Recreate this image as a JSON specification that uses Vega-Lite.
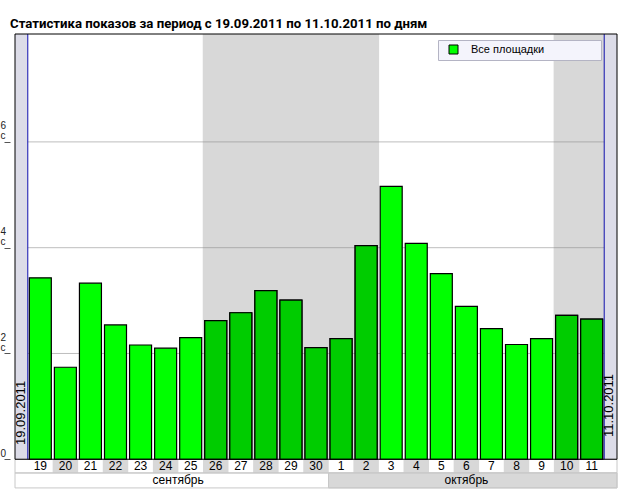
{
  "$schema": "https://vega.github.io/schema/vega-lite/v6.json",
  "width": 612,
  "height": 457,
  "autosize": "none",
  "padding": {"left": 10, "top": 34, "right": 7, "bottom": 9},
  "background": "white",
  "title": {
    "text": "Статистика показов за период с 19.09.2011 по 11.10.2011 по дням",
    "anchor": "start",
    "frame": "group",
    "font": "Roboto",
    "fontSize": 13.2,
    "fontWeight": "bold",
    "color": "black",
    "baseline": "bottom",
    "offset": 5,
    "dy": 16
  },
  "config": {
    "view": {"stroke": null},
    "font": "Liberation Sans",
    "axisX": {"disable": true},
    "axisY": {
      "domain": false,
      "grid": false,
      "tickSize": 6,
      "tickColor": "#555555",
      "labelAlign": "left",
      "labelPadding": 4,
      "labelBaseline": "bottom",
      "labelOffset": -11,
      "labelFontSize": 10,
      "labelLineHeight": 10,
      "labelColor": "#222222",
      "title": null,
      "labelExpr": "datum.value == 0 ? [' ', '0'] : [datum.label, 'с']"
    }
  },
  "datasets": {
    "days": [
      {"i": 0, "day": "19", "month": "сентябрь", "week": 1, "shows": 3.43},
      {"i": 1, "day": "20", "month": "сентябрь", "week": 1, "shows": 1.74},
      {"i": 2, "day": "21", "month": "сентябрь", "week": 1, "shows": 3.33},
      {"i": 3, "day": "22", "month": "сентябрь", "week": 1, "shows": 2.54},
      {"i": 4, "day": "23", "month": "сентябрь", "week": 1, "shows": 2.16},
      {"i": 5, "day": "24", "month": "сентябрь", "week": 1, "shows": 2.10},
      {"i": 6, "day": "25", "month": "сентябрь", "week": 1, "shows": 2.30},
      {"i": 7, "day": "26", "month": "сентябрь", "week": 2, "shows": 2.62},
      {"i": 8, "day": "27", "month": "сентябрь", "week": 2, "shows": 2.77},
      {"i": 9, "day": "28", "month": "сентябрь", "week": 2, "shows": 3.19},
      {"i": 10, "day": "29", "month": "сентябрь", "week": 2, "shows": 3.01},
      {"i": 11, "day": "30", "month": "сентябрь", "week": 2, "shows": 2.11},
      {"i": 12, "day": "1", "month": "октябрь", "week": 2, "shows": 2.28},
      {"i": 13, "day": "2", "month": "октябрь", "week": 2, "shows": 4.04},
      {"i": 14, "day": "3", "month": "октябрь", "week": 3, "shows": 5.16},
      {"i": 15, "day": "4", "month": "октябрь", "week": 3, "shows": 4.08},
      {"i": 16, "day": "5", "month": "октябрь", "week": 3, "shows": 3.51},
      {"i": 17, "day": "6", "month": "октябрь", "week": 3, "shows": 2.89},
      {"i": 18, "day": "7", "month": "октябрь", "week": 3, "shows": 2.47},
      {"i": 19, "day": "8", "month": "октябрь", "week": 3, "shows": 2.17},
      {"i": 20, "day": "9", "month": "октябрь", "week": 3, "shows": 2.28},
      {"i": 21, "day": "10", "month": "октябрь", "week": 4, "shows": 2.72},
      {"i": 22, "day": "11", "month": "октябрь", "week": 4, "shows": 2.65}
    ]
  },
  "layer": [
    {
      "data": {"values": [{}]},
      "mark": {"type": "rect", "fill": "#DCDCE8"},
      "encoding": {
        "x": {"datum": -1.01, "type": "quantitative", "scale": {"domain": [-1.01, 23.01], "nice": false, "zero": false}},
        "x2": {"datum": -0.5},
        "y": {"datum": 0, "type": "quantitative", "scale": {"domain": [-0.6, 8.04], "nice": false, "zero": false}, "axis": {"values": [0, 2, 4, 6]}},
        "y2": {"datum": 8.04}
      }
    },
    {
      "data": {"values": [{}]},
      "mark": {"type": "rect", "fill": "#DCDCE8"},
      "encoding": {
        "x": {"datum": 22.5, "type": "quantitative"},
        "x2": {"datum": 23.01},
        "y": {"datum": 0, "type": "quantitative"},
        "y2": {"datum": 8.04}
      }
    },
    {
      "data": {"name": "days"},
      "transform": [{"filter": "datum.week % 2 == 0"}],
      "mark": {"type": "bar", "fill": "#D8D8D8", "width": 26},
      "encoding": {
        "x": {"field": "i", "type": "quantitative"},
        "y": {"datum": 0, "type": "quantitative"},
        "y2": {"datum": 8.04}
      }
    },
    {
      "data": {"values": [{"v": 2}, {"v": 4}, {"v": 6}]},
      "mark": {"type": "rule", "color": "#888888", "opacity": 0.55},
      "encoding": {
        "x": {"datum": -0.5, "type": "quantitative"},
        "x2": {"datum": 22.5},
        "y": {"field": "v", "type": "quantitative"}
      }
    },
    {
      "data": {"name": "days"},
      "transform": [{"filter": "datum.i % 2 == 1"}],
      "mark": {"type": "bar", "fill": "#D8D8D8", "width": 25.5},
      "encoding": {
        "x": {"field": "i", "type": "quantitative"},
        "y": {"datum": 0, "type": "quantitative"},
        "y2": {"datum": -0.259}
      }
    },
    {
      "data": {"values": [{}]},
      "mark": {"type": "rect", "fillOpacity": 0, "stroke": "#C8C8C8", "strokeWidth": 1},
      "encoding": {
        "x": {"datum": -1.01, "type": "quantitative"},
        "x2": {"datum": 23.01},
        "y": {"datum": 0, "type": "quantitative"},
        "y2": {"datum": -0.259}
      }
    },
    {
      "data": {"values": [{}]},
      "mark": {"type": "rect", "fill": "#D8D8D8", "stroke": "#C8C8C8", "strokeWidth": 1},
      "encoding": {
        "x": {"datum": 11.5, "type": "quantitative"},
        "x2": {"datum": 23.01},
        "y": {"datum": -0.259, "type": "quantitative"},
        "y2": {"datum": -0.542}
      }
    },
    {
      "data": {"values": [{}]},
      "mark": {"type": "rect", "fillOpacity": 0, "stroke": "#C8C8C8", "strokeWidth": 1},
      "encoding": {
        "x": {"datum": -1.01, "type": "quantitative"},
        "x2": {"datum": 23.01},
        "y": {"datum": -0.259, "type": "quantitative"},
        "y2": {"datum": -0.542}
      }
    },
    {
      "data": {"name": "days"},
      "mark": {"type": "bar", "width": 22, "stroke": "black", "strokeWidth": 1.2},
      "encoding": {
        "x": {"field": "i", "type": "quantitative"},
        "y": {"field": "shows", "type": "quantitative"},
        "y2": {"datum": 0},
        "color": {
          "datum": "Все площадки",
          "type": "nominal",
          "scale": {"range": ["#00FF00"]},
          "legend": {
            "orient": "none",
            "legendX": 428,
            "legendY": 6,
            "title": null,
            "symbolType": "square",
            "symbolSize": 81,
            "symbolStrokeColor": "black",
            "symbolStrokeWidth": 1,
            "symbolOpacity": 1,
            "symbolOffset": 6,
            "labelFontSize": 11,
            "labelOffset": 12,
            "labelColor": "black",
            "labelLimit": 400,
            "fillColor": "#F4F4FC",
            "strokeColor": "#B4B4C4",
            "padding": 4,
            "labelExpr": "datum.label + '\u00a0\u00a0\u00a0\u00a0\u00a0\u00a0\u00a0\u00a0\u00a0\u00a0\u00a0\u00a0\u00a0\u00a0\u00a0\u00a0\u00a0\u200b'"
          }
        }
      }
    },
    {
      "data": {"name": "days"},
      "transform": [{"filter": "datum.week % 2 == 0"}],
      "mark": {"type": "bar", "width": 22, "fill": "#00CC00", "stroke": "black", "strokeWidth": 1.2},
      "encoding": {
        "x": {"field": "i", "type": "quantitative"},
        "y": {"field": "shows", "type": "quantitative"},
        "y2": {"datum": 0}
      }
    },
    {
      "data": {"values": [{}]},
      "mark": {"type": "rule", "color": "#1010B0", "strokeWidth": 1},
      "encoding": {
        "x": {"datum": -0.5, "type": "quantitative"},
        "y": {"datum": 0, "type": "quantitative"},
        "y2": {"datum": 8.04}
      }
    },
    {
      "data": {"values": [{}]},
      "mark": {"type": "rule", "color": "#1010B0", "strokeWidth": 1},
      "encoding": {
        "x": {"datum": 22.5, "type": "quantitative"},
        "y": {"datum": 0, "type": "quantitative"},
        "y2": {"datum": 8.04}
      }
    },
    {
      "data": {"values": [{}]},
      "mark": {"type": "rect", "fillOpacity": 0, "stroke": "black", "strokeWidth": 1},
      "encoding": {
        "x": {"datum": -1.01, "type": "quantitative"},
        "x2": {"datum": 23.01},
        "y": {"datum": 0, "type": "quantitative"},
        "y2": {"datum": 8.04}
      }
    },
    {
      "data": {"values": [{"date": "19.09.2011"}]},
      "mark": {"type": "text", "angle": 270, "align": "left", "baseline": "middle", "fontSize": 13, "color": "black"},
      "encoding": {
        "x": {"datum": -0.77, "type": "quantitative"},
        "y": {"datum": 0.27, "type": "quantitative"},
        "text": {"field": "date"}
      }
    },
    {
      "data": {"values": [{"date": "11.10.2011"}]},
      "mark": {"type": "text", "angle": 270, "align": "left", "baseline": "middle", "fontSize": 13, "color": "black"},
      "encoding": {
        "x": {"datum": 22.7, "type": "quantitative"},
        "y": {"datum": 0.42, "type": "quantitative"},
        "text": {"field": "date"}
      }
    },
    {
      "data": {"name": "days"},
      "mark": {"type": "text", "baseline": "middle", "align": "center", "fontSize": 12, "color": "black"},
      "encoding": {
        "x": {"field": "i", "type": "quantitative"},
        "y": {"datum": -0.136, "type": "quantitative"},
        "text": {"field": "day"}
      }
    },
    {
      "data": {"name": "days"},
      "mark": {"type": "text", "baseline": "middle", "align": "center", "fontSize": 12, "color": "black"},
      "encoding": {
        "x": {"aggregate": "mean", "field": "i", "type": "quantitative"},
        "y": {"datum": -0.40, "type": "quantitative"},
        "text": {"field": "month"}
      }
    }
  ]
}
